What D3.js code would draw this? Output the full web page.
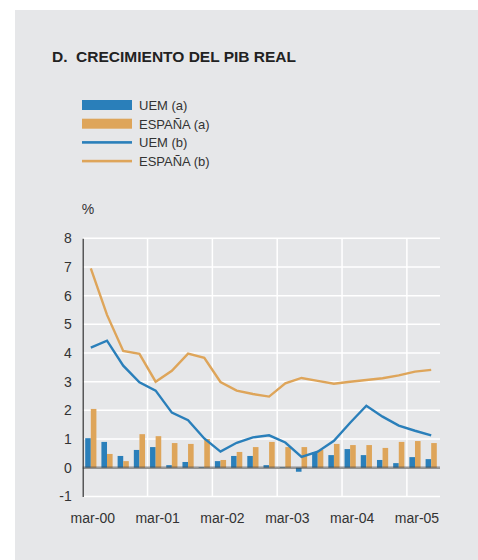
<!DOCTYPE html>
<html>
<head>
<meta charset="utf-8">
<script src="https://cdn.jsdelivr.net/npm/d3@7"></script>
<style>
  body { margin: 0; background: #fff; }
  text { font-family: "Liberation Sans", Arial, sans-serif; }
</style>
</head>
<body>
<script>
// quarterly data, mar-00 .. jun-05
var quarters = ["mar-00","jun-00","sep-00","dic-00","mar-01","jun-01","sep-01","dic-01",
  "mar-02","jun-02","sep-02","dic-02","mar-03","jun-03","sep-03","dic-03",
  "mar-04","jun-04","sep-04","dic-04","mar-05","jun-05"];
var uemA = [1.03, 0.90, 0.41, 0.62, 0.72, 0.09, 0.20, 0.02, 0.23, 0.41, 0.41, 0.09,
  0.02, -0.14, 0.54, 0.44, 0.65, 0.44, 0.27, 0.16, 0.37, 0.30];
var espA = [2.05, 0.48, 0.23, 1.17, 1.10, 0.86, 0.83, 1.00, 0.27, 0.55, 0.72, 0.90,
  0.72, 0.72, 0.62, 0.83, 0.79, 0.79, 0.69, 0.90, 0.93, 0.86];
var uemB = [4.19, 4.43, 3.56, 2.98, 2.69, 1.92, 1.66, 1.02, 0.56, 0.87, 1.06, 1.13,
  0.88, 0.38, 0.56, 0.94, 1.57, 2.16, 1.78, 1.47, 1.29, 1.13];
var espB = [6.95, 5.33, 4.07, 3.97, 3.00, 3.38, 3.98, 3.83, 2.99, 2.69, 2.57, 2.48,
  2.94, 3.13, 3.03, 2.93, 3.00, 3.06, 3.12, 3.22, 3.35, 3.41];
var yTicks = [-1, 0, 1, 2, 3, 4, 5, 6, 7, 8];
var xLabels = ["mar-00","mar-01","mar-02","mar-03","mar-04","mar-05"];
var legendItems = [
  {label: "UEM (a)", color: "#2a7fba", type: "bar"},
  {label: "ESPAÑA (a)", color: "#dea55a", type: "bar"},
  {label: "UEM (b)", color: "#2a7fba", type: "line"},
  {label: "ESPAÑA (b)", color: "#dea55a", type: "line"}
];

var width = 478, height = 560;
var blue = "#2a7fba", orange = "#dea55a";

var svg = d3.select("body").append("svg")
    .attr("width", width)
    .attr("height", height);

// grey panel
svg.append("rect")
    .attr("x", 15).attr("y", 10)
    .attr("width", width - 15).attr("height", height - 10)
    .attr("fill", "#e6e7e9");

svg.append("text")
    .attr("x", 52).attr("y", 62)
    .attr("font-size", "15.5px")
    .attr("font-weight", "bold")
    .attr("fill", "#222")
    .attr("xml:space", "preserve")
    .text("D.  CRECIMIENTO DEL PIB REAL");

// legend
var leg = svg.selectAll(".leg")
    .data(legendItems)
    .enter().append("g")
    .attr("transform", function(d, i) { return "translate(82," + (105 + i * 18.7) + ")"; });

leg.append("rect")
    .attr("x", 0)
    .attr("y", function(d) { return d.type == "bar" ? -5 : -1.3; })
    .attr("width", 50)
    .attr("height", function(d) { return d.type == "bar" ? 10 : 2.6; })
    .attr("fill", function(d) { return d.color; });

leg.append("text")
    .attr("x", 57).attr("y", 4.8)
    .attr("font-size", "13px")
    .attr("fill", "#333")
    .text(function(d) { return d.label; });

// scales
var x = d3.scaleBand()
    .domain(quarters)
    .range([82.7, 439.3]);

var y = d3.scaleLinear()
    .domain([-1, 8])
    .range([496.4, 238.3]);

// horizontal grid
svg.selectAll(".hgrid")
    .data(yTicks)
    .enter().append("line")
    .attr("x1", 82.7).attr("x2", 440)
    .attr("y1", function(d) { return y(d); })
    .attr("y2", function(d) { return y(d); })
    .attr("stroke", "#fff")
    .attr("stroke-width", 1.5);

// vertical grid at year boundaries
svg.selectAll(".vgrid")
    .data(xLabels.slice(1))
    .enter().append("line")
    .attr("x1", function(d) { return x(d); })
    .attr("x2", function(d) { return x(d); })
    .attr("y1", y(8)).attr("y2", y(-1))
    .attr("stroke", "#fff")
    .attr("stroke-width", 1.5);

// bars
var bw = 5.6;
svg.selectAll(".barU")
    .data(uemA)
    .enter().append("rect")
    .attr("x", function(d, i) { return x(quarters[i]) + x.bandwidth() / 2 - bw; })
    .attr("y", function(d) { return y(Math.max(0, d)); })
    .attr("width", bw)
    .attr("height", function(d) { return Math.abs(y(d) - y(0)); })
    .attr("fill", blue);

svg.selectAll(".barE")
    .data(espA)
    .enter().append("rect")
    .attr("x", function(d, i) { return x(quarters[i]) + x.bandwidth() / 2; })
    .attr("y", function(d) { return y(Math.max(0, d)); })
    .attr("width", bw)
    .attr("height", function(d) { return Math.abs(y(d) - y(0)); })
    .attr("fill", orange);

// zero line
svg.append("line")
    .attr("x1", 82.7).attr("x2", 440)
    .attr("y1", y(0)).attr("y2", y(0))
    .attr("stroke", "#444")
    .attr("stroke-opacity", 0.55)
    .attr("stroke-width", 2.5);

// lines
var line = d3.line()
    .x(function(d, i) { return x(quarters[i]) + x.bandwidth() / 2; })
    .y(function(d) { return y(d); });

svg.append("path")
    .datum(espB)
    .attr("d", line)
    .attr("fill", "none")
    .attr("stroke", orange)
    .attr("stroke-width", 2.4);

svg.append("path")
    .datum(uemB)
    .attr("d", line)
    .attr("fill", "none")
    .attr("stroke", blue)
    .attr("stroke-width", 2.4);

// y axis
var yAxis = svg.append("g")
    .attr("transform", "translate(82.7,0)")
    .call(d3.axisLeft(y).tickValues(yTicks).tickSize(0).tickPadding(11)
      .tickFormat(function(d) { return String(d); }));
yAxis.select(".domain").attr("stroke", "#333").attr("stroke-width", 1.2);
yAxis.selectAll("text")
    .attr("font-family", "Liberation Sans, Arial, sans-serif")
    .attr("font-size", "14px")
    .attr("fill", "#333");

svg.append("text")
    .attr("x", 88).attr("y", 214)
    .attr("text-anchor", "middle")
    .attr("font-size", "14px")
    .attr("fill", "#333")
    .text("%");

// x axis labels
svg.selectAll(".xl")
    .data(xLabels)
    .enter().append("text")
    .attr("x", function(d) { return x(d) + x.bandwidth() / 2 + 2; })
    .attr("y", 523)
    .attr("text-anchor", "middle")
    .attr("font-size", "14px")
    .attr("fill", "#333")
    .text(function(d) { return d; });
</script>
</body>
</html>
